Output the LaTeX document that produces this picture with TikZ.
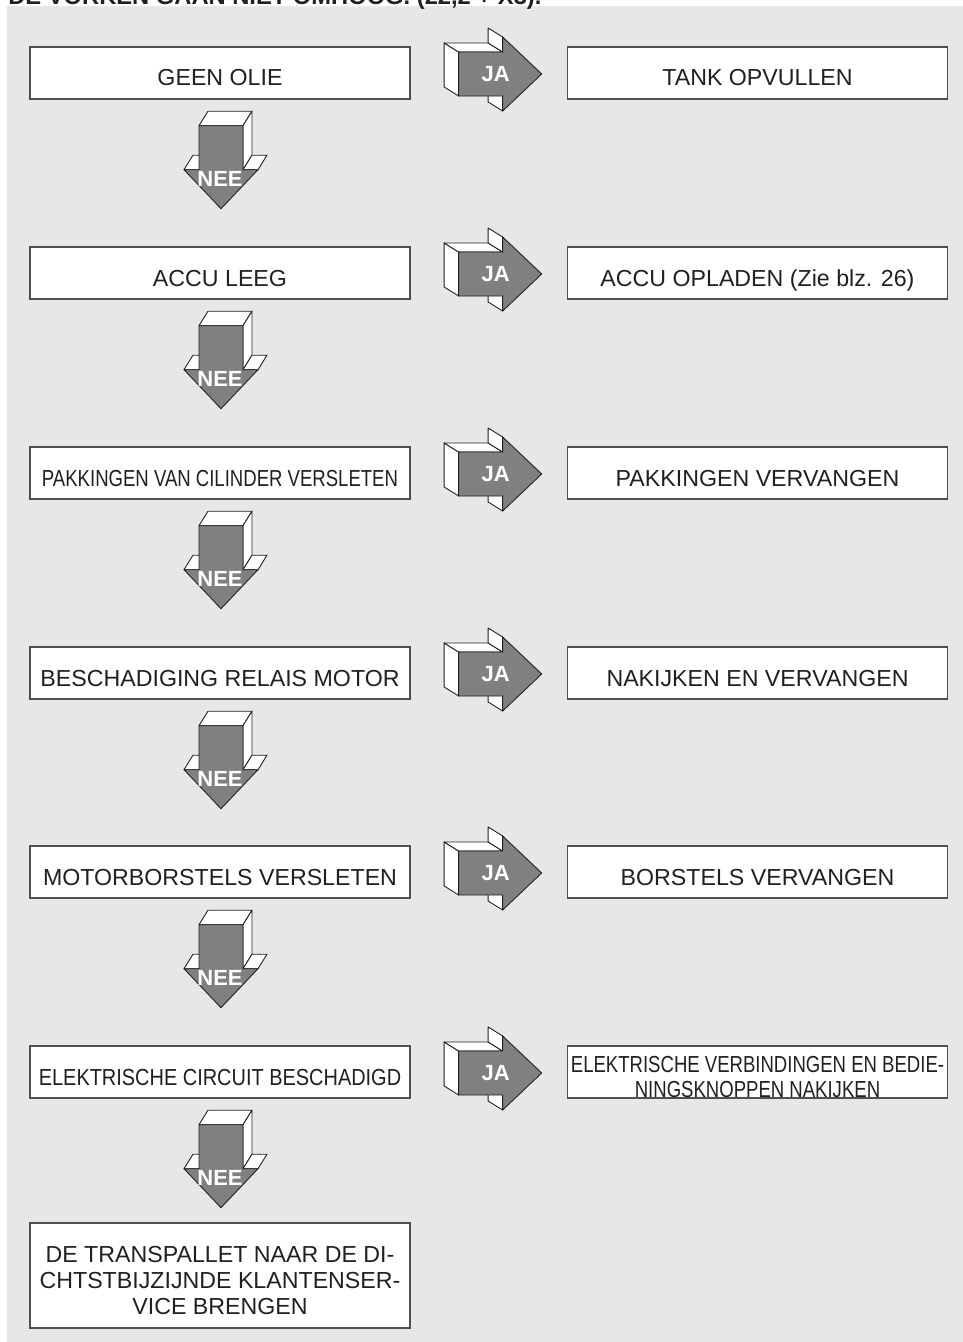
\documentclass[tikz,border=0pt]{standalone}
\usepackage{fontspec}
\setmainfont{Liberation Sans}
\usepackage{graphicx}
\usetikzlibrary{positioning, calc}

\definecolor{panel}{HTML}{E6E7E8}
\definecolor{ink}{HTML}{231F20}
\definecolor{arrowgray}{HTML}{808082}
\definecolor{frame}{HTML}{505050}

\begin{document}
\begin{tikzpicture}[
    x=0.02cm, y=-0.02cm,
    every node/.style={text=ink},
    box/.style={
        draw=frame,
        fill=white,
        line width=0.8pt,
        minimum width=7.6cm,
        minimum height=1.04cm,
        inner sep=0pt,
        text height=0.52cm,
        text depth=0pt,
        font=\fontsize{13.2}{15}\selectfont
    },
    twobox/.style={
        box,
        align=center,
        text height=1.02cm,
        text depth=0pt,
        font=\fontsize{13.2}{14.2}\selectfont
    },
    bigbox/.style={
        box,
        minimum height=2.1cm,
        align=center,
        text height=1.54cm,
        text depth=0pt,
        font=\fontsize{13.2}{14.8}\selectfont
    },
    arrowtext/.style={
        text=white,
        inner sep=0pt,
        font=\fontsize{12.5}{14}\selectfont\bfseries
    },
    header/.style={
        inner sep=0pt,
        font=\fontsize{13.5}{15}\selectfont\bfseries
    },
    sideface/.style={fill=white, draw=ink, line width=0.5pt, line join=round},
    frontface/.style={fill=arrowgray, draw=ink, line width=0.5pt, line join=round},
    flowarrow/.pic={
        \filldraw[sideface] (0,22) -- (0,-22) -- (-14.5,-31) -- (-14.5,13) -- cycle;
        \filldraw[sideface] (0,-22) -- (44,-22) -- (29.5,-31) -- (-14.5,-31) -- cycle;
        \filldraw[sideface] (44,-22) -- (44,-37) -- (29.5,-46) -- (29.5,-31) -- cycle;
        \filldraw[sideface] (44,37) -- (44,22) -- (29.5,13) -- (29.5,28) -- cycle;
        \filldraw[frontface] (0,-22) -- (44,-22) -- (44,-37) -- (83,0) -- (44,37)
            -- (44,22) -- (0,22) -- cycle;
    }
]

\useasboundingbox (0,0) rectangle (963,1342);
\fill[panel] (7,6) rectangle (963,1342);

\node[header, anchor=base west] (title) at (8,5) {DE VORKEN GAAN NIET OMHOOG. (22,2 + X3).};

% --- linker kolom: oorzaken ---
\node[box] (L1) at (220,73) {GEEN OLIE};
\node[box] (L2) at (220,273) {ACCU LEEG};
\node[box] (L3) at (220,473) {\scalebox{0.8}[1]{PAKKINGEN VAN CILINDER VERSLETEN}};
\node[box] (L4) at (220,673) {BESCHADIGING RELAIS MOTOR};
\node[box] (L5) at (220,872) {MOTORBORSTELS VERSLETEN};
\node[box] (L6) at (220,1072) {\scalebox{0.86}[1]{ELEKTRISCHE CIRCUIT BESCHADIGD}};
\node[bigbox] (L7) at (220,1275.5) {DE TRANSPALLET NAAR DE DI-\\ CHTSTBIJZIJNDE KLANTENSER-\\ VICE BRENGEN};

% --- rechter kolom: oplossingen ---
\node[box] (R1) at (757.5,73) {TANK OPVULLEN};
\node[box] (R2) at (757.5,273) {ACCU OPLADEN (Zie blz. 26)};
\node[box] (R3) at (757.5,473) {PAKKINGEN VERVANGEN};
\node[box] (R4) at (757.5,673) {NAKIJKEN EN VERVANGEN};
\node[box] (R5) at (757.5,872) {BORSTELS VERVANGEN};
\node[twobox] (R6) at (757.5,1072) {\scalebox{0.8}[1]{ELEKTRISCHE VERBINDINGEN EN BEDIE-}\\ \scalebox{0.8}[1]{NINGSKNOPPEN NAKIJKEN}};

% --- JA pijlen ---
\pic at ($(L1.east)+(48,1)$) {flowarrow};
\pic at ($(L2.east)+(48,1)$) {flowarrow};
\pic at ($(L3.east)+(48,1)$) {flowarrow};
\pic at ($(L4.east)+(48,1)$) {flowarrow};
\pic at ($(L5.east)+(48,1)$) {flowarrow};
\pic at ($(L6.east)+(48,1)$) {flowarrow};
\node[arrowtext] (ja1) at ($(L1.east)+(85,1)$) {JA};
\node[arrowtext] (ja2) at ($(L2.east)+(85,1)$) {JA};
\node[arrowtext] (ja3) at ($(L3.east)+(85,1)$) {JA};
\node[arrowtext] (ja4) at ($(L4.east)+(85,1)$) {JA};
\node[arrowtext] (ja5) at ($(L5.east)+(85,1)$) {JA};
\node[arrowtext] (ja6) at ($(L6.east)+(85,1)$) {JA};

% --- NEE pijlen ---
\pic[rotate=-90] at ($(L1.south)+(1,26)$) {flowarrow};
\pic[rotate=-90] at ($(L2.south)+(1,26)$) {flowarrow};
\pic[rotate=-90] at ($(L3.south)+(1,26)$) {flowarrow};
\pic[rotate=-90] at ($(L4.south)+(1,26)$) {flowarrow};
\pic[rotate=-90] at ($(L5.south)+(1,26)$) {flowarrow};
\pic[rotate=-90] at ($(L6.south)+(1,26)$) {flowarrow};
\node[arrowtext] (nee1) at ($(L1.south)+(0,79)$) {NEE};
\node[arrowtext] (nee2) at ($(L2.south)+(0,79)$) {NEE};
\node[arrowtext] (nee3) at ($(L3.south)+(0,79)$) {NEE};
\node[arrowtext] (nee4) at ($(L4.south)+(0,79)$) {NEE};
\node[arrowtext] (nee5) at ($(L5.south)+(0,79)$) {NEE};
\node[arrowtext] (nee6) at ($(L6.south)+(0,79)$) {NEE};

\end{tikzpicture}
\end{document}
